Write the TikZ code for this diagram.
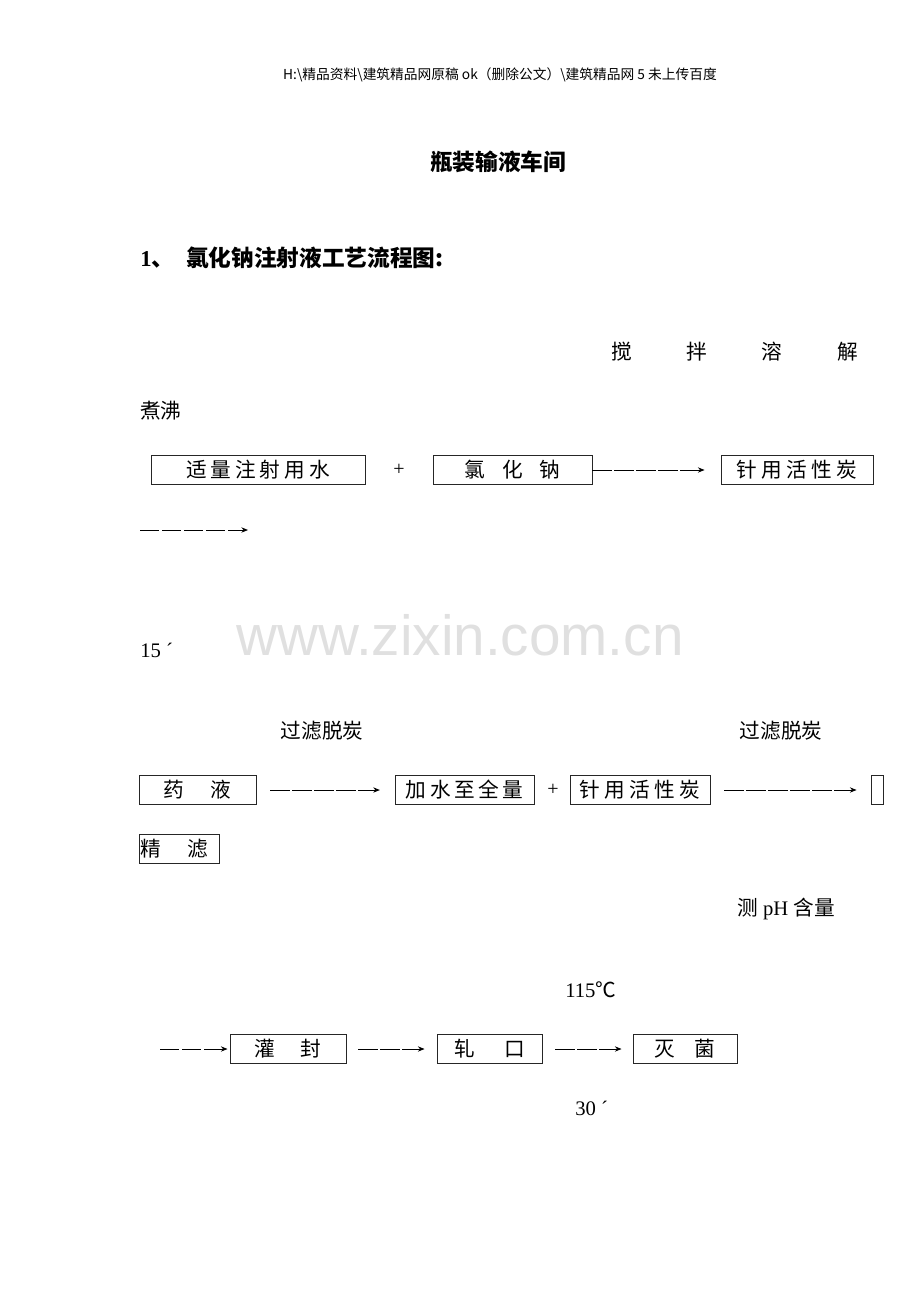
\documentclass[tikz,border=0pt]{standalone}
\usepackage{fontspec}
\setmainfont{Noto Sans CJK SC}
\newfontfamily\lat{Liberation Serif}
\newfontfamily\wmk{Liberation Sans}
\usetikzlibrary{arrows.meta}

\tikzset{
  proc/.style={draw=black!85, line width=0.7pt, minimum height=21.75pt, inner sep=0pt,
    font=\fontsize{15.5pt}{18pt}\selectfont},
  flow/.style={draw, line width=0.7pt, dash pattern=on 14.5pt off 2pt,
    -{Stealth[length=5pt,width=4pt]}},
  lbl/.style={inner sep=0pt, font=\fontsize{15.5pt}{18pt}\selectfont},
  head/.style={inner sep=0pt, font=\fontsize{17pt}{20pt}\selectfont\bfseries},
}

\begin{document}
\begin{tikzpicture}[x=0.75pt,y=-0.75pt]
        \useasboundingbox (0,0) rectangle (920,1302);

        % heading lines
        \node[inner sep=0pt, font=\fontsize{10.3pt}{12pt}\selectfont] (path) at (500,75)
            {H:\textbackslash 精品资料\textbackslash 建筑精品网原稿 ok（删除公文）\textbackslash 建筑精品网 5 未上传百度};
        \node[head] (title) at (498,162) {瓶装输液车间};
        \node[head, anchor=west] (step1) at (140,258) {{\lat\bfseries 1}、\kern9pt 氯化钠注射液工艺流程图:};

        % watermark
        \node[inner sep=0pt, text=black!12, font=\fontsize{42.5pt}{50pt}\selectfont\wmk] (mark) at (460,635) {www.zixin.com.cn};

        % row 1
        \node[lbl] (stir) at (734.5,352) {搅\kern41pt 拌\kern41pt 溶\kern41pt 解};
        \node[lbl, anchor=west] (boil) at (140,411) {煮沸};
        \node[proc, minimum width=160.5pt] (water) at (258,470) {适\kern3pt 量\kern3pt 注\kern3pt 射\kern3pt 用\kern3pt 水};
        \node[lbl, font=\fontsize{15pt}{18pt}\lat] (plus1) at (399,470) {+};
        \node[proc, minimum width=119.25pt] (nacl) at (512.5,470) {氯\kern12.5pt 化\kern12.5pt 钠};
        \node[proc, minimum width=114pt] (carbon1) at (797,470) {针\kern3.3pt 用\kern3.3pt 活\kern3.3pt 性\kern3.3pt 炭};
        \draw[flow, shorten >=12pt] (nacl.east) -- (carbon1.west);
        \coordinate (A) at (140,530);
        \coordinate (B) at (248,530);
        \draw[flow] (A) -- (B);

        \node[lbl, anchor=west, font=\fontsize{15.5pt}{18pt}\lat] (time1) at (140,650) {15 ´};

        % row 2
        \node[lbl] (filt1) at (322,731) {过滤脱炭};
        \node[lbl] (filt2) at (781,731) {过滤脱炭};
        \node[proc, minimum width=87.75pt] (liquid) at (197.5,790) {药\kern19.5pt 液};
        \node[proc, minimum width=104.25pt] (addwater) at (464.5,790) {加\kern2.6pt 水\kern2.6pt 至\kern2.6pt 全\kern2.6pt 量};
        \node[lbl, font=\fontsize{15pt}{18pt}\lat] (plus2) at (553,790) {+};
        \node[proc, minimum width=105pt] (carbon2) at (640,790) {针\kern3.3pt 用\kern3.3pt 活\kern3.3pt 性\kern3.3pt 炭};
        \node[proc, minimum width=9pt] (blank) at (877,790) {};
        \draw[flow, shorten <=10.5pt, shorten >=11pt] (liquid.east) -- (addwater.west);
        \draw[flow, shorten <=10.5pt, shorten >=10.5pt] (carbon2.east) -- (blank.west);
        \node[proc, anchor=west] (fine) at (139,849) {\kern1pt 精\kern19.5pt 滤\kern8.5pt};

        \node[lbl, anchor=west] (ph) at (737,909) {测{\lat\ pH }含量};

        % row 3
        \node[lbl, anchor=west] (temp) at (565,990) {{\lat 115}℃};
        \coordinate (C) at (160,1049);
        \node[proc, minimum width=87pt] (fill) at (288,1049) {灌\kern18.75pt 封};
        \node[proc, minimum width=78.75pt] (crimp) at (489.5,1049) {轧\kern21.75pt 口};
        \node[proc, minimum width=78pt] (steril) at (685,1049) {灭\kern15pt 菌};
        \draw[flow, shorten >=1.5pt] (C) -- (fill.west);
        \draw[flow, shorten <=9pt, shorten >=9pt] (fill.east) -- (crimp.west);
        \draw[flow, shorten <=9.75pt, shorten >=8.25pt] (crimp.east) -- (steril.west);
        \node[lbl, anchor=west, font=\fontsize{15.5pt}{18pt}\lat] (time2) at (575,1108) {30 ´};
\end{tikzpicture}
\end{document}
